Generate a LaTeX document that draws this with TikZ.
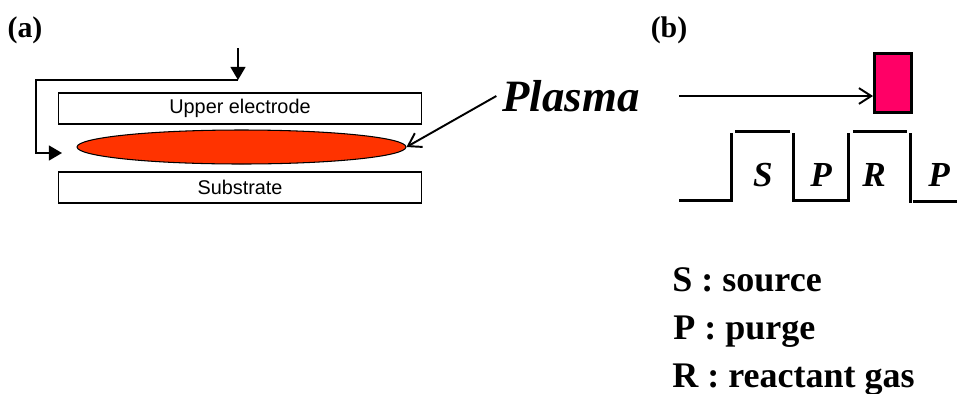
\documentclass[tikz,border=0pt]{standalone}
\usepackage{fontspec}
\setmainfont{Liberation Serif}
\setsansfont{Liberation Sans}
\usetikzlibrary{arrows.meta,positioning,shapes.geometric}
\definecolor{plasmared}{HTML}{FF3300}
\definecolor{pulsepink}{HTML}{FF0066}

\begin{document}
\begin{tikzpicture}[x=0.02cm,y=-0.02cm,
    plate/.style={draw,line width=0.6pt,minimum width=7.28cm,minimum height=0.62cm,inner sep=0pt,
        font=\sffamily\fontsize{11.3}{13}\selectfont},
    feed/.style={line width=1.1pt,-{Triangle[length=7.5pt,width=8.5pt]}},
    pointer/.style={line width=1.1pt,-{Straight Barb[length=7pt,width=9pt]}},
    pulse/.style={line width=1.7pt},
    tag/.style={font=\fontsize{17}{20}\selectfont\bfseries},
    phase/.style={font=\fontsize{20}{24}\selectfont\bfseries\itshape},
    legend/.style={anchor=base west,inner sep=0pt,font=\fontsize{20.5}{24}\selectfont\bfseries}]
    \useasboundingbox (0,0) rectangle (957,393);

    % (a) reactor
    \node[tag] (tagA) at (25,30) {(a)};
    \node[plate] (upper) at (240,108.5) {Upper electrode};
    \node[plate] (substrate) at (240,187.5) {Substrate};
    \node[draw,ellipse,line width=0.6pt,fill=plasmared,inner sep=0pt,
        minimum width=6.58cm,minimum height=0.68cm] (plasma) at (241.5,147) {};
    \node[font=\fontsize{25.5}{30}\selectfont\bfseries\itshape] (plasmalabel) at (571,96) {Plasma};
    \draw[pointer] (plasmalabel.west) -- (plasma.east);

    \coordinate (inlet) at (238,48);
    \coordinate (junction) at (238,80);
    \coordinate (corner) at (36,153);
    \coordinate (outlet) at (62,153);
    \draw[feed] (inlet) -- (junction);
    \draw[feed] (junction) -| (corner) -- (outlet);

    % (b) pulse sequence
    \node[tag] (tagB) at (669,30) {(b)};
    \node[draw,line width=1.7pt,fill=pulsepink,minimum width=0.74cm,minimum height=1.18cm] (pulsebox) at (893,83) {};
    \coordinate (start) at (679,96);
    \draw[pointer] (start) -- (start -| pulsebox.west);

    \draw[pulse] (679,200) -- (731,200) -- (731,133);
    \draw[pulse] (735,131) -- (790,131);
    \draw[pulse] (793,133) -- (793,200) -- (848,200) -- (848,133);
    \draw[pulse] (853,131) -- (907,131);
    \draw[pulse] (910,133) -- (910,203);
    \draw[pulse] (913,201) -- (957,201);

    \node[phase] (phS) at (763,175) {S};
    \node[phase] (phP) at (821,175) {P};
    \node[phase] (phR) at (874,175) {R};
    \node[phase] (phQ) at (939,175) {P};

    \node[legend] (legS) at (672,291) {S : source};
    \node[legend] (legP) at (673,339) {P : purge};
    \node[legend] (legR) at (672,387) {R : reactant gas};
\end{tikzpicture}
\end{document}
